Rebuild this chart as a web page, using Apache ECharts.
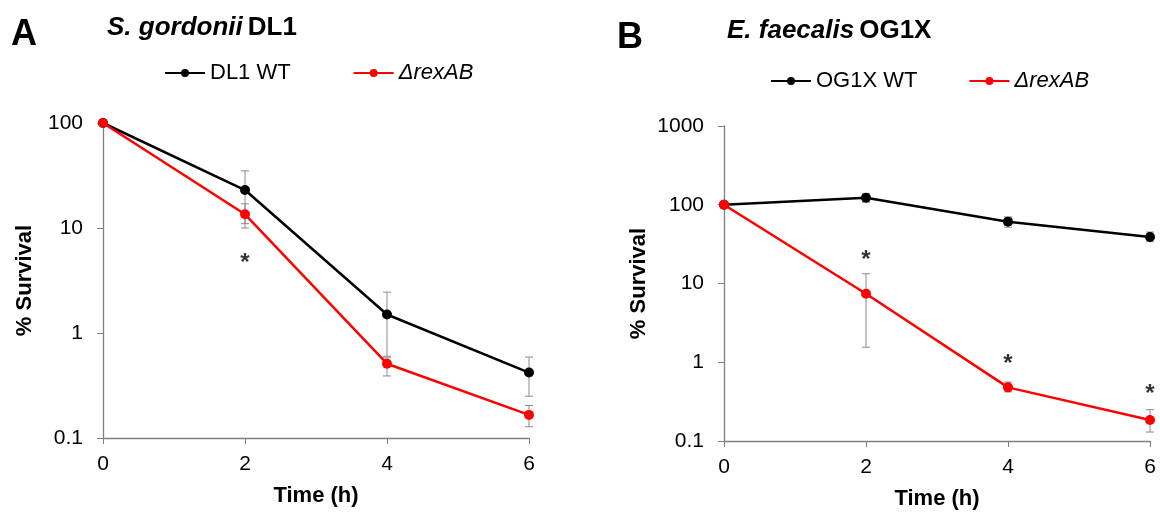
<!DOCTYPE html>
<html>
<head>
<meta charset="utf-8">
<script src="https://cdn.jsdelivr.net/npm/echarts@6/dist/echarts.min.js"></script>
<style>
html,body{margin:0;padding:0;background:#fff;}
#main{width:1160px;height:515px;}
</style>
</head>
<body>
<div id="main"></div>
<script>
// ---- data ----
const times = [0, 2, 4, 6];
const xTicks = [0, 2, 4, 6];

// Panel A: S. gordonii DL1
const wtA    = [100, 23, 1.5, 0.42];
const wtA_lo = [null, 11, 0.6, 0.25];
const wtA_hi = [null, 35, 2.45, 0.59];
const koA    = [100, 13.5, 0.51, 0.166];
const koA_lo = [null, 10, 0.39, 0.128];
const koA_hi = [null, 17, 0.58, 0.204];
const starA  = [null, 5.4, null, null];

// Panel B: E. faecalis OG1X
const wtB    = [100, 123, 61, 39];
const wtB_lo = [null, 108, 52, 34];
const wtB_hi = [null, 138, 70, 45];
const koB    = [100, 7.4, 0.48, 0.185];
const koB_lo = [null, 1.55, 0.42, 0.13];
const koB_hi = [null, 13.3, 0.56, 0.25];
const starB  = [null, 24, 1.14, 0.48];

const namesA = ['DL1 WT', 'ΔrexAB'];
const namesB = ['OG1X WT', 'ΔrexAB'];

// ---- helpers ----
const FONT = 'Liberation Sans, Arial, sans-serif';
const AXIS_GRAY = '#7f7f7f';

function pts(vals) { return times.map((t, i) => [t, vals[i]]); }
function errData(lo, hi) {
  const out = [];
  times.forEach((t, i) => { if (lo[i] != null) out.push([t, lo[i], hi[i]]); });
  return out;
}
function starData(vals) {
  const out = [];
  times.forEach((t, i) => { if (vals[i] != null) out.push([t, vals[i]]); });
  return out;
}
function errSeries(lo, hi, gi) {
  return {
    type: 'custom', xAxisIndex: gi, yAxisIndex: gi, z: 1, silent: true,
    data: errData(lo, hi),
    renderItem: function (params, api) {
      const x = api.value(0);
      const p1 = api.coord([x, api.value(1)]);
      const p2 = api.coord([x, api.value(2)]);
      const w = 4;
      const st = { stroke: '#8c8c8c', lineWidth: 1 };
      return { type: 'group', children: [
        { type: 'line', shape: { x1: p1[0], y1: p1[1], x2: p2[0], y2: p2[1] }, style: st },
        { type: 'line', shape: { x1: p1[0]-w, y1: p1[1], x2: p1[0]+w, y2: p1[1] }, style: st },
        { type: 'line', shape: { x1: p2[0]-w, y1: p2[1], x2: p2[0]+w, y2: p2[1] }, style: st }
      ]};
    }
  };
}
function lineSeries(name, vals, color, gi) {
  return {
    type: 'line', name: name, xAxisIndex: gi, yAxisIndex: gi, z: 3,
    data: pts(vals), symbol: 'circle', symbolSize: 10,
    lineStyle: { color: color, width: 2.5 }, itemStyle: { color: color },
    emphasis: { disabled: true }
  };
}
function starSeries(vals, gi) {
  return {
    type: 'scatter', xAxisIndex: gi, yAxisIndex: gi, symbolSize: 1, z: 4,
    itemStyle: { color: 'rgba(0,0,0,0)' }, data: starData(vals), silent: true,
    label: { show: true, position: 'inside', formatter: '*', fontFamily: FONT, fontSize: 24, fontWeight: 'bold', color: '#000', offset: [0, 7] }
  };
}
function xAxisCfg(gi) {
  return {
    type: 'value', gridIndex: gi, min: 0, max: 6, interval: 2,
    name: 'Time (h)', nameLocation: 'middle', nameGap: 47,
    nameTextStyle: { fontFamily: FONT, fontSize: 22, fontWeight: 'bold', color: '#000' },
    axisLine: { lineStyle: { color: AXIS_GRAY, width: 1.3 } },
    axisTick: { show: true, length: 6, lineStyle: { color: AXIS_GRAY } },
    axisLabel: { fontFamily: FONT, fontSize: 21, color: '#000', margin: 16,
      formatter: v => xTicks.includes(v) ? String(v) : '' },
    splitLine: { show: false }
  };
}
function yAxisCfg(gi, max, gap) {
  return {
    type: 'log', logBase: 10, gridIndex: gi, min: 0.1, max: max,
    name: '% Survival', nameLocation: 'middle', nameGap: gap, nameRotate: 90,
    nameTextStyle: { fontFamily: FONT, fontSize: 22, fontWeight: 'bold', color: '#000' },
    axisLine: { show: true, lineStyle: { color: AXIS_GRAY, width: 1.3 } },
    axisTick: { show: true, length: 6, lineStyle: { color: AXIS_GRAY } },
    minorTick: { show: false },
    axisLabel: { fontFamily: FONT, fontSize: 21, color: '#000', margin: 20,
      formatter: v => String(+v.toPrecision(3)) },
    splitLine: { show: false }
  };
}
function legendCfg(names, left, top, gap) {
  return {
    data: names, left: left, top: top, itemWidth: 40, itemHeight: 10, itemGap: gap,
    selectedMode: false,
    formatter: n => n.startsWith('Δ') ? '{i|' + n + '}' : n,
    textStyle: { fontFamily: FONT, fontSize: 22, color: '#000',
      rich: { i: { fontFamily: FONT, fontSize: 22, fontStyle: 'italic', color: '#000' } } }
  };
}
function titleCfg(letter, it, bold, leftL, topL, leftT, topT) {
  return [
    { text: letter, left: leftL, top: topL, textStyle: { fontFamily: FONT, fontSize: 36, fontWeight: 'bold', color: '#000' } },
    { text: '{i|' + it + '} {b|' + bold + '}', left: leftT, top: topT,
      textStyle: { rich: {
        i: { fontFamily: FONT, fontSize: 26, fontWeight: 'bold', fontStyle: 'italic', color: '#000' },
        b: { fontFamily: FONT, fontSize: 26, fontWeight: 'bold', color: '#000' } } } }
  ];
}

const chart = echarts.init(document.getElementById('main'), null, { renderer: 'canvas' });
chart.setOption({
  animation: false,
  backgroundColor: '#fff',
  title: [].concat(
    titleCfg('A', 'S. gordonii', 'DL1', 6, 12, 102, 10),
    titleCfg('B', 'E. faecalis', 'OG1X', 612, 15, 722, 13)),
  legend: [legendCfg(namesA, 159, 57, 62), legendCfg(namesB, 765, 65, 51)],
  grid: [
    { left: 103, right: 1160 - 529, top: 123, bottom: 515 - 438 },
    { left: 724, right: 1160 - 1150, top: 126, bottom: 515 - 442 }
  ],
  xAxis: [xAxisCfg(0), xAxisCfg(1)],
  yAxis: [yAxisCfg(0, 100, 67), yAxisCfg(1, 1000, 74)],
  series: [
    errSeries(wtA_lo, wtA_hi, 0), errSeries(koA_lo, koA_hi, 0),
    lineSeries(namesA[0], wtA, '#000000', 0), lineSeries(namesA[1], koA, '#ff0000', 0),
    starSeries(starA, 0),
    errSeries(wtB_lo, wtB_hi, 1), errSeries(koB_lo, koB_hi, 1),
    lineSeries(namesB[0], wtB, '#000000', 1), lineSeries(namesB[1], koB, '#ff0000', 1),
    starSeries(starB, 1)
  ]
});
</script>
</body>
</html>
